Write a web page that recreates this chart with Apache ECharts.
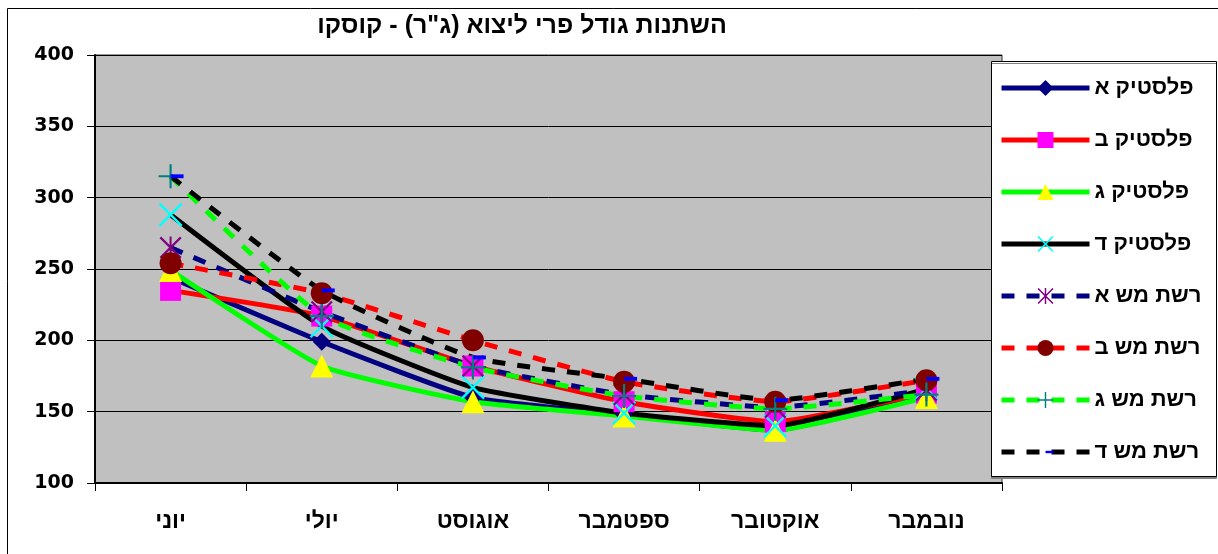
<!DOCTYPE html>
<html>
<head>
<meta charset="utf-8">
<script src="https://cdn.jsdelivr.net/npm/echarts@6/dist/echarts.min.js"></script>
<style>
  html, body { margin: 0; padding: 0; background: #fff; }
  #chart { width: 1218px; height: 554px; }
</style>
</head>
<body>
<div id="chart"></div>
<script>
// Months on the category axis
const months = ['יוני', 'יולי', 'אוגוסט', 'ספטמבר', 'אוקטובר', 'נובמבר'];

// Average fruit weight (g) per treatment
const plasticA = [244, 199, 160, 148, 137, 163];
const plasticB = [235, 217, 182, 157, 143, 163];
const plasticC = [249, 182, 157, 147, 137, 160];
const plasticD = [288, 210, 167, 149, 140, 166];
const meshA = [265, 220, 182, 162, 153, 165];
const meshB = [254, 233, 200, 171, 157, 172];
const meshC = [315, 217, 181, 161, 152, 162];
const meshD = [315, 235, 188, 173, 158, 173];

const seriesNames = ['פלסטיק א', 'פלסטיק ב', 'פלסטיק ג', 'פלסטיק ד',
                     'רשת מש א', 'רשת מש ב', 'רשת מש ג', 'רשת מש ד'];

// Marker shapes drawn as filled outlines inside a square box
const SYM_X = 'path://M1.4,0 L20,18.6 L18.6,20 L0,1.4 Z M18.6,0 L20,1.4 L1.4,20 L0,18.6 Z';
const SYM_STAR = 'path://M9.1,0 L10.9,0 L10.9,20 L9.1,20 Z M1.4,0 L20,18.6 L18.6,20 L0,1.4 Z M18.6,0 L20,1.4 L1.4,20 L0,18.6 Z';
const SYM_PLUS = 'path://M9.1,0 L10.9,0 L10.9,20 L9.1,20 Z M0,9.1 L20,9.1 L20,10.9 L0,10.9 Z';
const SYM_DASH = 'path://M0,0 M24,24 M12,10.2 L24,10.2 L24,13.8 L12,13.8 Z';

const FONT_HE = '"Liberation Sans", Arial, sans-serif';
const FONT_NUM = '"DejaVu Sans", "Liberation Sans", Arial, sans-serif';
const DASH = [13, 12];

function makeSeries(name, data, lineColor, dashed, symbol, size, markColor) {
  return {
    name: name,
    type: 'line',
    data: data,
    smooth: 0.15,
    symbol: symbol,
    symbolSize: size,
    showAllSymbol: true,
    lineStyle: { color: lineColor, width: 5, type: dashed ? DASH : 'solid' },
    itemStyle: { color: markColor, borderWidth: 0 },
    emphasis: { disabled: true },
    animation: false
  };
}

const series = [
  makeSeries(seriesNames[0], plasticA, '#000080', false, 'diamond', 18, '#000080'),
  makeSeries(seriesNames[1], plasticB, '#FF0000', false, 'rect', 21, '#FF00FF'),
  makeSeries(seriesNames[2], plasticC, '#00FF00', false, 'triangle', 23, '#FFFF00'),
  makeSeries(seriesNames[3], plasticD, '#000000', false, SYM_X, 24, '#00FFFF'),
  makeSeries(seriesNames[4], meshA, '#000080', true, SYM_STAR, 22, '#800080'),
  makeSeries(seriesNames[5], meshB, '#FF0000', true, 'circle', 22, '#800000'),
  makeSeries(seriesNames[6], meshC, '#00FF00', true, SYM_PLUS, 24, '#008080'),
  makeSeries(seriesNames[7], meshD, '#000000', true, SYM_DASH, 26, '#0000FF')
];

const chart = echarts.init(document.getElementById('chart'), null, { renderer: 'canvas' });

chart.setOption({
  animation: false,
  backgroundColor: '#ffffff',
  title: {
    text: 'השתנות גודל פרי ליצוא (ג"ר) - קוסקו',
    left: 517,
    top: 9,
    textAlign: 'center',
    textStyle: { fontFamily: FONT_HE, fontWeight: 'bold', fontSize: 25, color: '#000' }
  },
  grid: {
    left: 95, right: 216, top: 55, bottom: 71,
    show: true,
    backgroundColor: '#C0C0C0',
    borderColor: '#333',
    borderWidth: 1
  },
  xAxis: {
    type: 'category',
    data: months,
    boundaryGap: true,
    axisLine: { lineStyle: { color: '#000', width: 2 } },
    axisTick: { show: true, length: 8, lineStyle: { color: '#000', width: 1 } },
    axisLabel: { margin: 27, fontFamily: FONT_HE, fontWeight: 'bold', fontSize: 23, color: '#000' },
    splitLine: { show: false }
  },
  yAxis: {
    type: 'value',
    min: 100, max: 400, interval: 50,
    axisLine: { show: true, lineStyle: { color: '#000', width: 2 } },
    axisTick: { show: true, length: 8, lineStyle: { color: '#000', width: 1 } },
    axisLabel: { margin: 21, fontFamily: FONT_NUM, fontWeight: 'bold', fontSize: 19, color: '#000' },
    splitLine: { show: true, lineStyle: { color: '#000', width: 1 } }
  },
  legend: {
    orient: 'vertical',
    left: 999,
    top: 77,
    itemWidth: 88,
    itemHeight: 20,
    itemGap: 30,
    padding: 0,
    z: 20,
    selectedMode: false,
    lineStyle: { width: 5 },
    textStyle: { fontFamily: FONT_HE, fontWeight: 'bold', fontSize: 22, lineHeight: 20, color: '#000' },
    data: seriesNames
  },
  graphic: [
    {
      type: 'rect',
      z: -1,
      silent: true,
      shape: { x: 7.5, y: 8.5, width: 1300, height: 700 },
      style: { fill: 'none', stroke: '#000', lineWidth: 1 }
    },
    {
      type: 'rect',
      z: 15,
      silent: true,
      shape: { x: 991.5, y: 61.5, width: 225, height: 415 },
      style: {
        fill: '#fff', stroke: '#000', lineWidth: 1,
        shadowColor: '#808080', shadowOffsetX: 0, shadowOffsetY: 2, shadowBlur: 0
      }
    }
  ],
  series: series
});
</script>
</body>
</html>
